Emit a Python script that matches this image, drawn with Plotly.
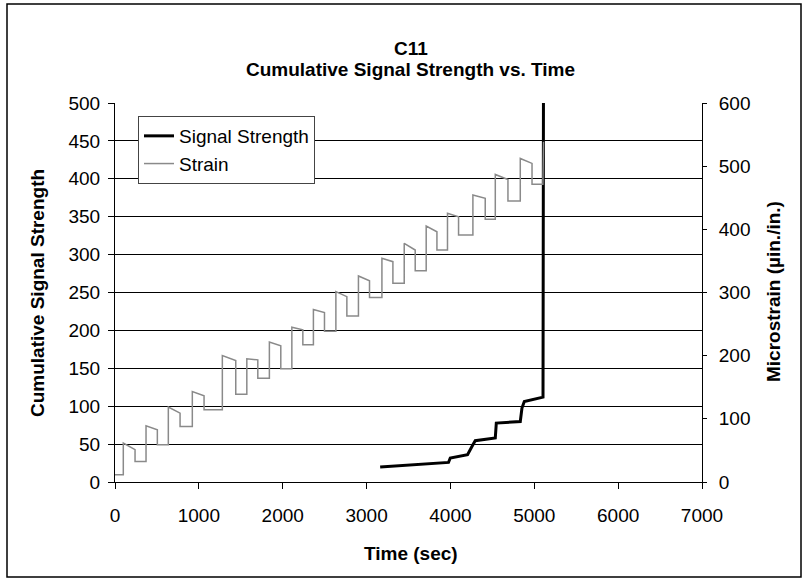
import plotly.graph_objects as go

# ---- Cumulative signal strength (left axis) ----
signal_time = [3162, 3977, 3998, 4204, 4268, 4296, 4535, 4547, 4833, 4853, 4881, 5104, 5111]
signal_value = [19.8, 25.8, 31.6, 36.0, 49.1, 54.4, 58.0, 77.7, 79.8, 97.5, 106.2, 112.0, 620.0]

# ---- Strain (right axis, microstrain) : load-hold steps ----
strain_start = 11.5
step_rise_time = [99, 370, 636, 922, 1280, 1572, 1841, 2109, 2366, 2634, 2903, 3183,
                  3449, 3711, 3965, 4268, 4535, 4833]
step_peak = [61.7, 89.0, 118.6, 143.2, 200.2, 195.0, 221.4, 245.1, 273.0, 301.3, 326.2, 354.1,
             377.9, 405.2, 425.3, 454.2, 486.9, 512.2]
step_unload_time = [239, 505, 776, 1062, 1440, 1703, 1977, 2240, 2498, 2765, 3035, 3314,
                    3580, 3839, 4097, 4415, 4686, 4973]
step_hold_end = [51.1, 82.7, 109.1, 136.4, 192.3, 193.4, 215.5, 240.8, 268.2, 293.4, 318.7, 348.8,
                 367.3, 396.2, 419.9, 449.0, 479.0, 504.4]
step_low = [32.6, 59.0, 87.9, 114.3, 139.1, 164.4, 179.1, 217.1, 238.8, 262.9, 291.9, 314.6,
            334.5, 367.3, 391.0, 415.8, 444.7, 471.2]
final_time = [5103, 5110]
final_strain = [471.2, 538.5]

x_ticks = [0, 1000, 2000, 3000, 4000, 5000, 6000, 7000]

# assemble the strain polyline from the step records
strain_t = [0]
strain_v = [strain_start]
for i in range(len(step_rise_time)):
    strain_t += [step_rise_time[i], step_rise_time[i], step_unload_time[i], step_unload_time[i]]
    prev = strain_v[-1]
    strain_v += [prev, step_peak[i], step_hold_end[i], step_low[i]]
strain_t += final_time
strain_v += final_strain

FONT = "Arial, 'Liberation Sans', sans-serif"

fig = go.Figure()
fig.add_trace(go.Scatter(x=signal_time, y=signal_value, mode="lines", name="Signal Strength",
                         line=dict(color="black", width=3), yaxis="y"))
fig.add_trace(go.Scatter(x=strain_t, y=strain_v, mode="lines", name="Strain",
                         line=dict(color="#8a8a8a", width=1.5), yaxis="y2"))

# plot-area geometry in pixels, used to place free text in paper units
L, R, T, B = 115, 702, 103, 482
W, H = 809, 584
def px(x):
    return (x - L) / (R - L)
def py(y):
    return (B - y) / (B - T)

fig.update_layout(
    width=W, height=H, autosize=False,
    margin=dict(l=L, r=W - R, t=T, b=H - B),
    paper_bgcolor="white", plot_bgcolor="white",
    font=dict(family=FONT, size=19, color="black"),
    showlegend=True,
    legend=dict(x=px(138), y=py(116), xanchor="left", yanchor="top",
                bgcolor="white", bordercolor="#444", borderwidth=1,
                font=dict(size=19), tracegroupgap=0, itemwidth=30),
    xaxis=dict(range=[0, 7000], tickvals=x_ticks, ticks="outside", ticklen=6,
               tickcolor="black", showline=True, linecolor="black", linewidth=1,
               showgrid=False, zeroline=False, ticklabelstandoff=10),
    yaxis=dict(range=[0, 500], dtick=50, ticks="outside", ticklen=6, tickcolor="black",
               showline=True, linecolor="black", linewidth=1,
               showgrid=True, gridcolor="black", gridwidth=1, zeroline=False,
               ticklabelstandoff=4),
    yaxis2=dict(range=[0, 600], dtick=100, overlaying="y", side="right", anchor="x",
                ticks="outside", ticklen=4, tickcolor="black",
                showline=True, linecolor="black", linewidth=1,
                showgrid=False, zeroline=False, ticklabelstandoff=8),
    yaxis3=dict(range=[0, 600], dtick=100, overlaying="y", side="right", anchor="x",
                ticks="inside", ticklen=4, tickcolor="black", showticklabels=False,
                showline=False, showgrid=False, zeroline=False),
)

annotations = [
    dict(text="<b>C11</b>", x=px(411), y=py(48)),
    dict(text="<b>Cumulative Signal Strength vs. Time</b>", x=px(411), y=py(69)),
    dict(text="<b>Time (sec)</b>", x=px(411), y=py(553)),
    dict(text="<b>Cumulative Signal Strength</b>", x=px(37), y=py(293), textangle=-90),
    dict(text="<b>Microstrain (µin./in.)</b>", x=px(773), y=py(292), textangle=-90),
]
for a in annotations:
    fig.add_annotation(xref="paper", yref="paper", showarrow=False,
                       xanchor="center", yanchor="middle",
                       font=dict(family=FONT, size=19, color="black"), **a)

# outer chart frame
fig.add_shape(type="rect", xref="paper", yref="paper",
              x0=px(7), x1=px(801), y0=py(577), y1=py(4),
              line=dict(color="black", width=1.5), fillcolor="rgba(0,0,0,0)", layer="below")

fig.write_html("out.html")
